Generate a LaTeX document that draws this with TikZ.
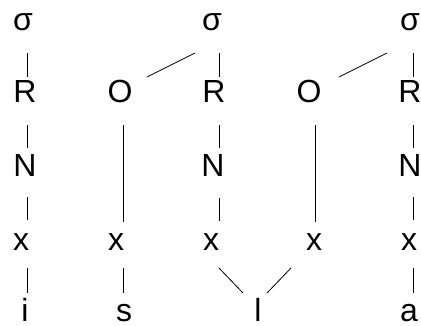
\documentclass[tikz,border=0pt]{standalone}
\usepackage{fontspec}
\setmainfont{Liberation Sans}
\begin{document}
\begin{tikzpicture}[x=1pt,y=-1pt,
  lbl/.style={anchor=base,inner sep=0pt,outer sep=0pt,font=\fontsize{32}{38}\selectfont},
  link/.style={line width=0.8pt,black}]
\useasboundingbox (0,0) rectangle (421,325);
% column 1
\node[lbl] (s1) at (23,30) {σ};
\node[lbl] (r1) at (25,102) {R};
\node[lbl] (n1) at (25,176) {N};
\node[lbl] (x1) at (21,250) {x};
\node[lbl] (i) at (25,321.5) {i};
% onset 1
\node[lbl] (o1) at (120,102) {O};
\node[lbl] (x2) at (116,250) {x};
\node[lbl] (s) at (124,321.5) {s};
% column 3
\node[lbl] (s3) at (212,30) {σ};
\node[lbl] (r3) at (214,102) {R};
\node[lbl] (n3) at (213,176) {N};
\node[lbl] (x3) at (211,250) {x};
\node[lbl] (l) at (258,321.5) {l};
% onset 2
\node[lbl] (o2) at (309,102) {O};
\node[lbl] (x4) at (314,250) {x};
% column 5
\node[lbl] (s5) at (410,30) {σ};
\node[lbl] (r5) at (410,102) {R};
\node[lbl] (n5) at (410,176) {N};
\node[lbl] (x5) at (409,250) {x};
\node[lbl] (a) at (409,321.5) {a};
% links column 1
\draw[link] ([shift={(4,23)}]s1.base) -- ([shift={(2,-25)}]r1.base);
\draw[link] ([shift={(2,23)}]r1.base) -- ([shift={(2,-28)}]n1.base);
\draw[link] ([shift={(2,21)}]n1.base) -- ([shift={(6,-30)}]x1.base);
\draw[link] ([shift={(6,18)}]x1.base) -- ([shift={(2,-28.5)}]i.base);
% onset 1
\draw[link] ([shift={(3,23)}]o1.base) -- ([shift={(7,-28)}]x2.base);
\draw[link] ([shift={(7,18)}]x2.base) -- ([shift={(-1,-28.5)}]s.base);
\draw[link] ([shift={(27,-25)}]o1.base) -- ([shift={(-17,23)}]s3.base);
% column 3
\draw[link] ([shift={(7,23)}]s3.base) -- ([shift={(5,-25)}]r3.base);
\draw[link] ([shift={(5,23)}]r3.base) -- ([shift={(6,-28)}]n3.base);
\draw[link] ([shift={(6,22)}]n3.base) -- ([shift={(8,-29)}]x3.base);
\draw[link] ([shift={(8,18)}]x3.base) -- ([shift={(-15,-28.5)}]l.base);
% onset 2
\draw[link] ([shift={(6,23)}]o2.base) -- ([shift={(1,-28)}]x4.base);
\draw[link] ([shift={(-23,18)}]x4.base) -- ([shift={(9,-28.5)}]l.base);
\draw[link] ([shift={(30,-25)}]o2.base) -- ([shift={(-23,23)}]s5.base);
% column 5
\draw[link] ([shift={(3,23)}]s5.base) -- ([shift={(3,-25)}]r5.base);
\draw[link] ([shift={(3,23)}]r5.base) -- ([shift={(3,-28)}]n5.base);
\draw[link] ([shift={(3,21)}]n5.base) -- ([shift={(4,-30)}]x5.base);
\draw[link] ([shift={(4,18)}]x5.base) -- ([shift={(4,-28.5)}]a.base);
\end{tikzpicture}
\end{document}
